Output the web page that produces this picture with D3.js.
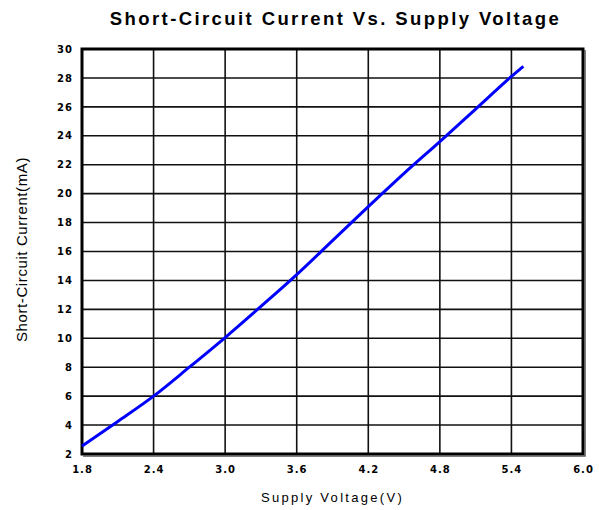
<!DOCTYPE html>
<html>
<head>
<meta charset="utf-8">
<script src="https://cdn.jsdelivr.net/npm/d3@7"></script>
<style>
    body { margin: 0; background: #fff; }
    svg text { font-family: "Liberation Sans", Arial, sans-serif; fill: #000; }
</style>
</head>
<body>
<svg id="chart" width="599" height="510"></svg>
<script>
    // values
    var voltage = [1.8, 2.1, 2.4, 2.7, 3.0, 3.3, 3.6, 3.9, 4.2, 4.5, 4.8, 5.1, 5.4, 5.5];
    var current = [2.55, 4.25, 6.0, 8.0, 10.05, 12.2, 14.4, 16.75, 19.1, 21.4, 23.6, 25.85, 28.1, 28.8];
    var xTicks = [1.8, 2.4, 3.0, 3.6, 4.2, 4.8, 5.4, 6.0];
    var yTicks = [2, 4, 6, 8, 10, 12, 14, 16, 18, 20, 22, 24, 26, 28, 30];

    var margin = {left: 82, right: 16, top: 49, bottom: 56};
    var width = 599 - margin.left - margin.right,
        height = 510 - margin.top - margin.bottom;

    var svg = d3.select("#chart");
    var g = svg.append("g").attr("transform", "translate(" + margin.left + "," + margin.top + ")");

    var x = d3.scaleLinear().domain([1.8, 6.0]).range([0, width]);
    var y = d3.scaleLinear().domain([2, 30]).range([height, 0]);

    // grid
    g.append("g")
        .selectAll("line")
        .data(xTicks)
        .enter().append("line")
        .attr("x1", function(d) { return x(d); })
        .attr("x2", function(d) { return x(d); })
        .attr("y1", 0)
        .attr("y2", height)
        .style("stroke", "#111")
        .style("stroke-width", 1.6);

    g.append("g")
        .selectAll("line")
        .data(yTicks)
        .enter().append("line")
        .attr("x1", 0)
        .attr("x2", width)
        .attr("y1", function(d) { return y(d); })
        .attr("y2", function(d) { return y(d); })
        .style("stroke", "#111")
        .style("stroke-width", 1.6);

    // axes (labels only)
    var xAxis = g.append("g")
        .attr("transform", "translate(0," + height + ")")
        .call(d3.axisBottom(x).tickValues(xTicks).tickSize(0).tickPadding(12)
            .tickFormat(d3.format(".1f")));
    var yAxis = g.append("g")
        .call(d3.axisLeft(y).tickValues(yTicks).tickSize(0).tickPadding(9)
            .tickFormat(d3.format("d")));
    [xAxis, yAxis].forEach(function(a) {
        a.select(".domain").remove();
        a.selectAll("text")
            .style("font-family", "'DejaVu Sans', sans-serif")
            .style("font-size", "10px")
            .style("font-weight", "bold")
            .style("letter-spacing", "1px");
    });

    // frame, heavier on right and bottom like the original
    g.append("rect")
        .attr("x", 0).attr("y", 0)
        .attr("width", width).attr("height", height)
        .style("fill", "none")
        .style("stroke", "#000")
        .style("stroke-width", 3);
    g.append("path")
        .attr("d", "M" + (width + 2) + ",1V" + (height + 2) + "H1")
        .style("fill", "none")
        .style("stroke", "#555")
        .style("stroke-width", 1.5);

    // curve
    var line = d3.line()
        .x(function(d, i) { return x(voltage[i]); })
        .y(function(d, i) { return y(current[i]); })
        .curve(d3.curveMonotoneX);

    g.append("path")
        .datum(voltage)
        .attr("d", line)
        .style("fill", "none")
        .style("stroke", "#0000ff")
        .style("stroke-width", 3);

    // titles
    svg.append("text")
        .attr("x", margin.left + width / 2 + 3)
        .attr("y", 25)
        .attr("text-anchor", "middle")
        .style("font-size", "18.5px")
        .style("font-weight", "bold")
        .style("letter-spacing", "2.4px")
        .text("Short-Circuit Current Vs. Supply Voltage");

    svg.append("text")
        .attr("x", margin.left + width / 2)
        .attr("y", 502)
        .attr("text-anchor", "middle")
        .style("font-size", "13px")
        .style("letter-spacing", "2.3px")
        .text("Supply Voltage(V)");

    svg.append("text")
        .attr("transform", "translate(27," + (margin.top + height / 2 - 2) + ") rotate(-90)")
        .attr("text-anchor", "middle")
        .style("font-size", "15px")
        .style("letter-spacing", "0.6px")
        .text("Short-Circuit Current(mA)");
</script>
</body>
</html>
